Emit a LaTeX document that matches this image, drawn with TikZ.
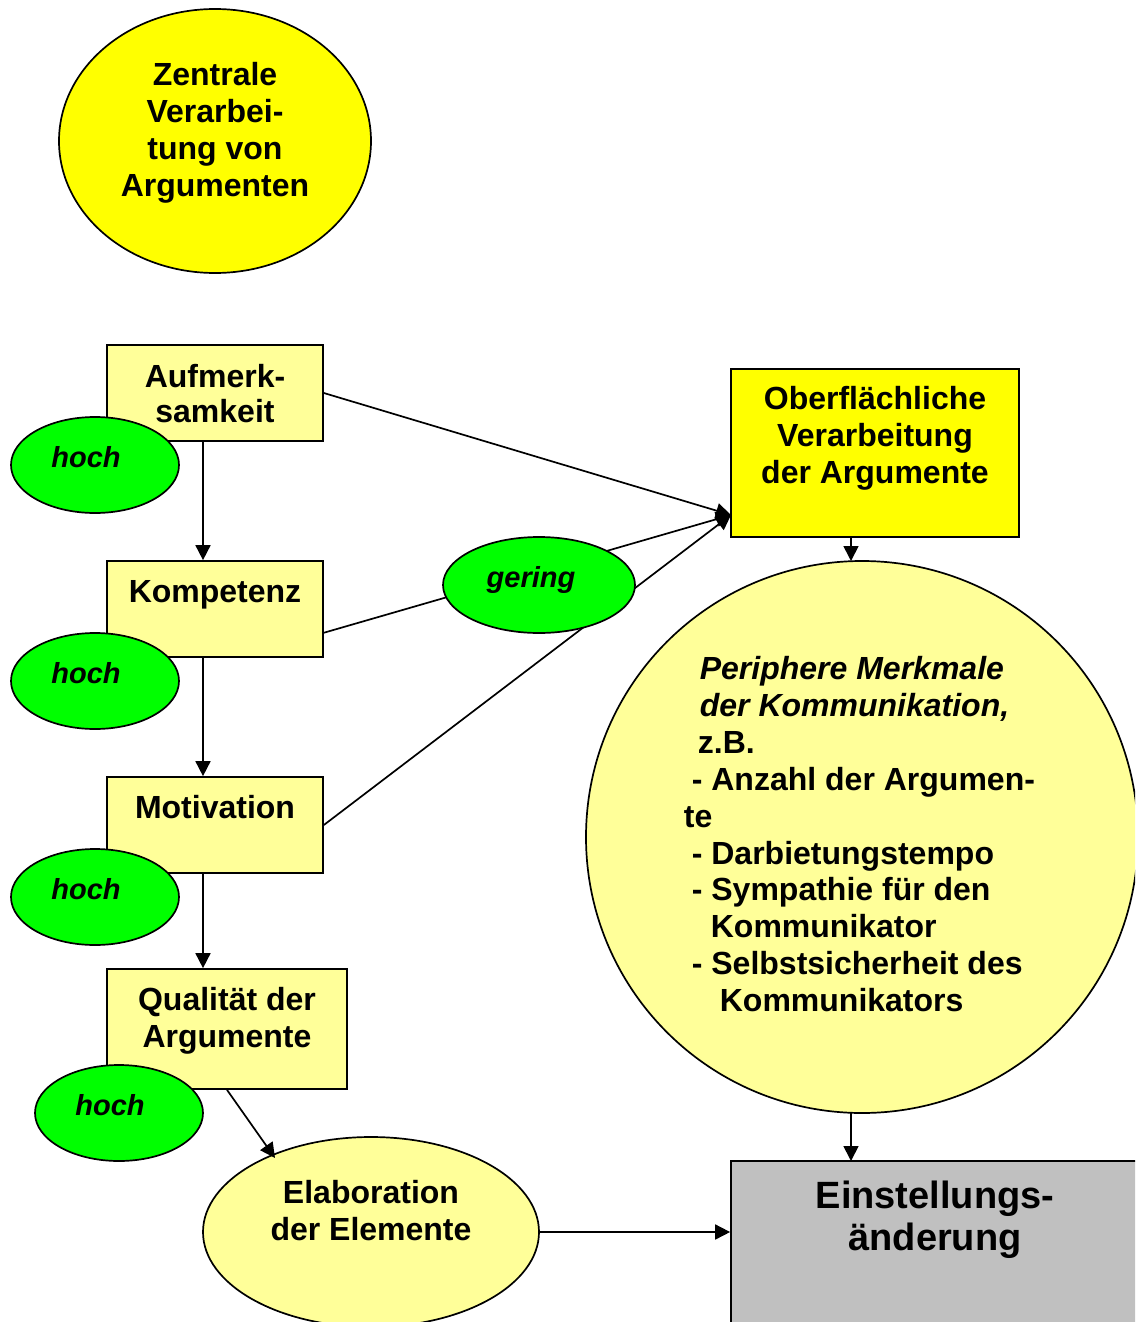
\documentclass[tikz,border=0pt]{standalone}
\usepackage{fontspec}
\setmainfont{Liberation Sans}
\usetikzlibrary{arrows.meta,shapes.geometric}
\definecolor{yel}{RGB}{255,255,0}
\definecolor{lyel}{RGB}{255,255,153}
\definecolor{grn}{RGB}{0,255,0}
\definecolor{gry}{RGB}{192,192,192}
\begin{document}
\begin{tikzpicture}[x=1pt,y=-1pt,line width=1.7pt,
  >={Triangle[length=15pt,width=15pt]},
  box/.style={draw,fill=lyel,inner sep=0pt},
  oval/.style={draw,ellipse,inner sep=0pt},
  txt/.style={inner sep=0pt,anchor=base,align=center,font=\fontsize{32}{37}\selectfont\bfseries},
  ital/.style={inner sep=0pt,anchor=base,font=\fontsize{29}{35}\selectfont\bfseries\itshape},
  pl/.style={inner sep=0pt,anchor=base west,font=\fontsize{32}{37}\selectfont\bfseries},
  pli/.style={pl,font=\fontsize{32}{37}\selectfont\bfseries\itshape}]
\useasboundingbox (0,0) rectangle (1135,1322);
\clip (0,0) rectangle (1135,1322);
% top circle
\node[oval,fill=yel,minimum width=312pt,minimum height=264pt] (zen) at (215,141) {};
\node[txt,anchor=center] (zent) at (215,132.5) {Zentrale\\Verarbei-\\tung von\\Argumenten};
% right side
\node[box,fill=yel,minimum width=288pt,minimum height=168pt] (ober) at (875,453) {};
\node[txt,anchor=center] (obert) at (875,438.5) {Oberflächliche\\Verarbeitung\\der Argumente};
\node[oval,fill=lyel,minimum width=552pt,minimum height=552pt] (per) at (862,837) {};
\node[box,fill=gry,minimum width=420pt,minimum height=200pt] (ein) at (941,1261) {};
\node[txt,anchor=center,font=\fontsize{38}{42}\selectfont\bfseries] (eint) at (935,1219.5) {Einstellungs-\\änderung};
% periphere text
\node[pli] (p1) at (699,679) {Periphere Merkmale};
\node[pli] (p2) at (699,716) {der Kommunikation,};
\node[pl] (p3) at (697,753) {z.B.};
\node[pl] (p4) at (691,790) {- Anzahl der Argumen-};
\node[pl] (p5) at (683,827) {te};
\node[pl] (p6) at (691,864) {- Darbietungstempo};
\node[pl] (p7) at (691,900) {- Sympathie für den};
\node[pl] (p8) at (710,937) {Kommunikator};
\node[pl] (p9) at (691,974) {- Selbstsicherheit des};
\node[pl] (p10) at (719,1011) {Kommunikators};
% left column boxes
\node[box,minimum width=216pt,minimum height=96pt] (auf) at (215,393) {};
\node[txt] (auft) at (215,387) {Aufmerk-};
\node[txt] (auft2) at (215,422) {samkeit};
\node[box,minimum width=216pt,minimum height=96pt] (kom) at (215,609) {};
\node[txt] (komt) at (215,602) {Kompetenz};
\node[box,minimum width=216pt,minimum height=96pt] (mot) at (215,825) {};
\node[txt] (mott) at (215,818) {Motivation};
\node[box,minimum width=240pt,minimum height=120pt] (qua) at (227,1029) {};
\node[txt] (quat) at (227,1010) {Qualität der};
\node[txt] (quat2) at (227,1047) {Argumente};
\node[oval,fill=lyel,minimum width=336pt,minimum height=190pt] (ela) at (371,1232) {};
\node[txt] (elat) at (371,1203) {Elaboration};
\node[txt] (elat2) at (371,1240) {der Elemente};
% hoch ovals
\node[oval,fill=grn,minimum width=168pt,minimum height=96pt] (h1) at (95,465) {};
\node[ital] (h1t) at (86,467) {hoch};
\node[oval,fill=grn,minimum width=168pt,minimum height=96pt] (h2) at (95,681) {};
\node[ital] (h2t) at (86,683) {hoch};
\node[oval,fill=grn,minimum width=168pt,minimum height=96pt] (h3) at (95,897) {};
\node[ital] (h3t) at (86,899) {hoch};
\node[oval,fill=grn,minimum width=168pt,minimum height=96pt] (h4) at (119,1113) {};
\node[ital] (h4t) at (110,1115) {hoch};
% connectors
\coordinate (ot) at (731,515);
\coordinate (ke) at (323,633);
\coordinate (os) at (851,537);
\coordinate (pt) at (851,561);
\coordinate (pb) at (851,1113);
\coordinate (et) at (851,1161);
\coordinate (elt) at (275,1158);
\draw[->] (auf.east) -- (ot);
\draw[->] (ke) -- (ot);
\draw[->] (mot.east) -- (ot);
\node[oval,fill=grn,minimum width=192pt,minimum height=96pt] (ger) at (539,585) {};
\node[ital] (gert) at (531,587) {gering};
\draw[->] (auf.south -| 203,0) -- (kom.north -| 203,0);
\draw[->] (kom.south -| 203,0) -- (mot.north -| 203,0);
\draw[->] (mot.south -| 203,0) -- (qua.north -| 203,0);
\draw[->] (qua.south) -- (elt);
\draw[->] (ela.east) -- (ela.east -| ein.west);
\draw[->] (os) -- (pt);
\draw[->] (pb) -- (et);
\end{tikzpicture}
\end{document}
